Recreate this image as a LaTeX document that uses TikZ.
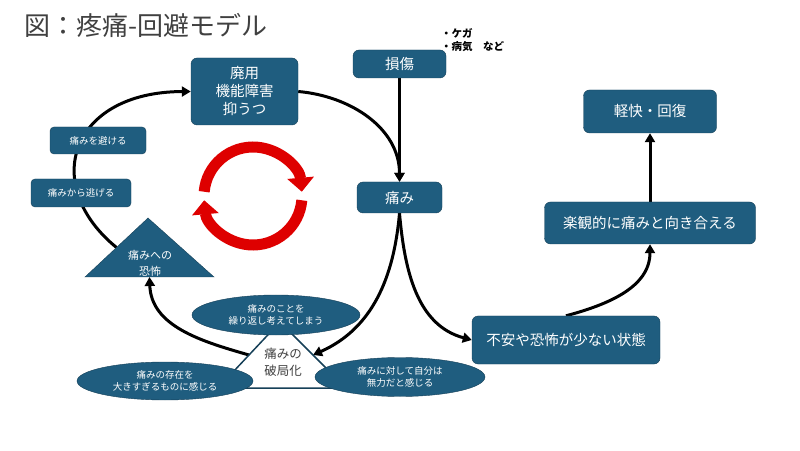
\documentclass[tikz,border=0pt]{standalone}
\usepackage{fontspec}
\setmainfont{Noto Sans CJK JP}
\usetikzlibrary{arrows.meta,shapes.geometric}
\definecolor{boxblue}{RGB}{31,93,127}
\definecolor{boxline}{RGB}{22,64,88}
\definecolor{ringred}{RGB}{222,0,0}
\pgfdeclarelayer{bg}
\pgfsetlayers{bg,main}
\begin{document}
\begin{tikzpicture}[x=1pt,y=1pt,
  box/.style={draw=boxline,fill=boxblue,rounded corners=6pt,text=white,align=center,inner sep=0pt,font=\fontsize{14.5}{18}\selectfont},
  smallbox/.style={box,rounded corners=4pt,font=\fontsize{9.5}{11}\selectfont},
  oval/.style={ellipse,draw=boxline,fill=boxblue,text=white,align=center,inner sep=0pt,font=\fontsize{9.5}{12}\selectfont},
  link/.style={line width=3pt,-{Triangle[width=10pt,length=9pt]}},
  turn/.style={ringred,line width=11pt,-{Triangle[width=26pt,length=14pt]}}]

\useasboundingbox (0,0) rectangle (800,450);

\node[anchor=west,inner sep=0pt,text=black!75,font=\fontsize{26}{30}\selectfont] (title) at (24,425) {図：疼痛-回避モデル};

\node[box,minimum width=107pt,minimum height=67pt] (disuse) at (244.5,358.5) {廃用\\機能障害\\抑うつ};
\node[box,minimum width=93pt,minimum height=28pt] (injury) at (399.5,386) {損傷};
\node[anchor=west,inner sep=0pt,align=left,font=\fontsize{10.5}{13}\selectfont\bfseries] (note) at (441,409.5) {・ケガ\\・病気　など};
\node[box,minimum width=85pt,minimum height=31pt] (pain) at (399.5,252.5) {痛み};
\node[box,minimum width=133pt,minimum height=43pt] (recover) at (650,338.5) {軽快・回復};
\node[box,minimum width=211pt,minimum height=42pt] (optim) at (650,227) {楽観的に痛みと向き合える};
\node[box,minimum width=188pt,minimum height=48pt] (lowfear) at (566,110) {不安や恐怖が少ない状態};

\node[smallbox,minimum width=96pt,minimum height=27pt] (avoid) at (98,309.5) {痛みを避ける};
\node[smallbox,minimum width=100pt,minimum height=28pt] (escape) at (81,257) {痛みから逃げる};

\filldraw[fill=boxblue,draw=boxline] (85,173) -- coordinate[pos=.5] (fearside) (148,232) -- (214,173) -- coordinate[pos=.5] (fearbase) cycle;
\node[text=white,align=center,font=\fontsize{11}{16}\selectfont] (fear) at (150,187) {痛みへの\\恐怖};

\filldraw[fill=white,draw=boxline,line width=1.5pt] (218,62) -- coordinate[pos=.5] (catasL) (280,128) -- coordinate[pos=.5] (catasR) (346,62) -- cycle;
\node[text=black!75,align=center,font=\fontsize{12.5}{17}\selectfont] (catas) at (283,88) {痛みの\\破局化};

\node[oval,minimum width=168pt,minimum height=40pt] (rumin) at (276,135) {痛みのことを\\繰り返し考えてしまう};
\node[oval,minimum width=176pt,minimum height=38pt] (magnif) at (165,69) {痛みの存在を\\大きすぎるものに感じる};
\node[oval,minimum width=170pt,minimum height=39pt] (helpless) at (400,73) {痛みに対して自分は\\無力だと感じる};

\draw[turn] (253,254) ++(175:49) arc[start angle=175,end angle=5,radius=49];
\draw[turn] (253,254) ++(-5:49) arc[start angle=-5,end angle=-175,radius=49];

\begin{pgfonlayer}{bg}
\draw[link] (disuse.east) to[out=-5,in=90] (pain.north);
\draw[link] (injury) -- (pain);
\draw[link] (pain.south) to[out=-95,in=24] (catasR);
\draw[link] (pain.south) to[out=-85,in=165] (lowfear.west);
\draw[link] (catasL) to[out=164,in=-88] (fearbase);
\draw[link] (fearside) .. controls (40,265) and (70,358) .. (disuse.west);
\draw[link] (lowfear.north) to[out=15,in=-90] (optim.south);
\draw[link] (optim) -- (recover);
\end{pgfonlayer}

\end{tikzpicture}
\end{document}
